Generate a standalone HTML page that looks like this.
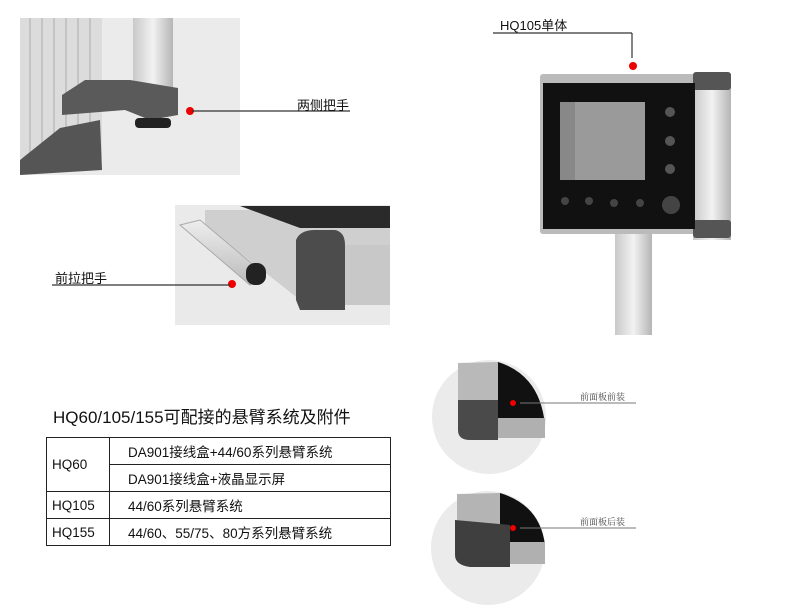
<!DOCTYPE html>
<html><head><meta charset="utf-8"><style>
body{margin:0;width:790px;height:613px;background:#fff;position:relative;overflow:hidden;font-family:"Liberation Sans","Noto Sans CJK SC",sans-serif;color:#111}
.a{position:absolute}
table{border-collapse:collapse;position:absolute;left:46px;top:437px;font-size:13.5px;table-layout:fixed;width:344px}
td{border:1.5px solid #222;height:26px;padding:0;white-space:nowrap}
</style></head><body>
<svg class="a" style="left:0;top:0" width="790" height="613">
<defs>
<linearGradient id="al" x1="0" x2="1"><stop offset="0" stop-color="#c9c9c9"/><stop offset=".5" stop-color="#f2f2f2"/><stop offset="1" stop-color="#b5b5b5"/></linearGradient>
<linearGradient id="alv" x1="0" y1="0" x2="0" y2="1"><stop offset="0" stop-color="#eee"/><stop offset="1" stop-color="#bbb"/></linearGradient>
</defs>
<rect x="20" y="18" width="220" height="157" fill="#ebebeb"/>
<rect x="20" y="18" width="82" height="140" fill="#dcdcdc"/>
<g stroke="#c4c4c4" stroke-width="2"><line x1="30" y1="18" x2="30" y2="160"/><line x1="42" y1="18" x2="42" y2="155"/><line x1="54" y1="18" x2="54" y2="150"/><line x1="66" y1="18" x2="66" y2="140"/><line x1="78" y1="18" x2="78" y2="130"/><line x1="90" y1="18" x2="90" y2="125"/></g>
<path d="M20 160 L60 128 L100 120 L102 170 L20 175Z" fill="#555"/>
<rect x="133" y="18" width="40" height="78" fill="url(#al)"/>
<path d="M62 95 L85 80 L130 80 L178 88 L178 115 L150 120 L125 110 L62 115Z" fill="#5a5a5a"/>
<rect x="135" y="118" width="36" height="10" rx="4" fill="#222"/>
<circle cx="190" cy="111" r="4" fill="#e00"/>
<line x1="192" y1="111" x2="350" y2="111" stroke="#333" stroke-width="1.2"/>
<rect x="175" y="205" width="215" height="120" fill="#eaeaea"/>
<path d="M205 210 L390 210 L390 300 L300 300 L205 225Z" fill="#cfcfcf"/>
<path d="M240 206 L390 206 L390 228 L300 228Z" fill="#2a2a2a"/>
<path d="M180 225 L200 220 L262 272 L250 285Z" fill="url(#alv)" stroke="#aaa"/>
<rect x="246" y="263" width="20" height="22" rx="9" fill="#222"/>
<path d="M296 240 Q300 230 315 230 L335 230 Q345 232 345 245 L345 310 L300 310 L296 300Z" fill="#4c4c4c"/>
<rect x="345" y="245" width="45" height="60" fill="#c8c8c8"/>
<circle cx="232" cy="284" r="4" fill="#e00"/>
<line x1="52" y1="285" x2="230" y2="285" stroke="#333" stroke-width="1.2"/>
<line x1="493" y1="33" x2="632" y2="33" stroke="#333" stroke-width="1.2"/>
<line x1="632" y1="33" x2="632" y2="58" stroke="#333" stroke-width="1.2"/>
<circle cx="633" cy="66" r="4" fill="#e00"/>
<rect x="615" y="228" width="37" height="107" fill="url(#al)"/>
<rect x="540" y="74" width="170" height="160" rx="3" fill="#bbb"/>
<rect x="693" y="74" width="38" height="166" fill="url(#al)"/>
<rect x="693" y="72" width="38" height="18" rx="3" fill="#555"/>
<rect x="693" y="220" width="38" height="18" rx="3" fill="#555"/>
<rect x="543" y="83" width="152" height="146" fill="#111"/>
<rect x="560" y="102" width="85" height="78" fill="#888"/>
<rect x="575" y="102" width="70" height="78" fill="#9a9a9a"/>
<circle cx="670" cy="112" r="5" fill="#555"/><circle cx="670" cy="141" r="5" fill="#555"/><circle cx="670" cy="169" r="5" fill="#555"/>
<circle cx="565" cy="201" r="4" fill="#444"/><circle cx="589" cy="201" r="4" fill="#444"/><circle cx="614" cy="203" r="4" fill="#444"/><circle cx="640" cy="203" r="4" fill="#444"/><circle cx="671" cy="205" r="9" fill="#444"/>
<circle cx="489" cy="417" r="57" fill="#ebebeb"/>
<path d="M458 363 L498 362 L498 425 L458 425Z" fill="#b9b9b9"/>
<path d="M498 362 Q540 375 545 425 L498 425Z" fill="#111"/>
<path d="M458 400 L498 400 L498 440 L470 440 Q458 440 458 430Z" fill="#4a4a4a"/>
<rect x="498" y="418" width="47" height="20" fill="#b0b0b0"/>
<circle cx="513" cy="403" r="3" fill="#e00"/>
<line x1="520" y1="403" x2="636" y2="403" stroke="#777"/>
<circle cx="488" cy="548" r="57" fill="#ebebeb"/>
<path d="M457 494 L500 493 L500 545 L457 545Z" fill="#b4b4b4"/>
<path d="M500 493 Q540 505 545 545 L500 545Z" fill="#111"/>
<path d="M455 520 L510 525 L510 567 L470 567 Q455 565 455 555Z" fill="#3f3f3f"/>
<rect x="510" y="542" width="35" height="22" fill="#b0b0b0"/>
<circle cx="513" cy="528" r="3" fill="#e00"/>
<line x1="520" y1="528" x2="636" y2="528" stroke="#777"/>
</svg>
<div class="a" style="left:297px;top:95px;font-size:13px">两侧把手</div>
<div class="a" style="left:55px;top:268px;font-size:13px">前拉把手</div>
<div class="a" style="left:500px;top:15px;font-size:13px">HQ105单体</div>
<div class="a" style="left:580px;top:390px;font-size:9px;font-family:'Liberation Serif','Noto Serif CJK SC',serif;color:#444">前面板前装</div>
<div class="a" style="left:580px;top:515px;font-size:9px;font-family:'Liberation Serif','Noto Serif CJK SC',serif;color:#444">前面板后装</div>
<div class="a" style="left:53px;top:403px;font-size:17px">HQ60/105/155可配接的悬臂系统及附件</div>
<table>
<col style="width:63px"><col style="width:281px">
<tr><td rowspan="2" style="padding-left:5px">HQ60</td><td style="padding-left:18px">DA901接线盒+44/60系列悬臂系统</td></tr>
<tr><td style="padding-left:18px">DA901接线盒+液晶显示屏</td></tr>
<tr><td style="padding-left:5px">HQ105</td><td style="padding-left:18px">44/60系列悬臂系统</td></tr>
<tr><td style="padding-left:5px">HQ155</td><td style="padding-left:18px">44/60、55/75、80方系列悬臂系统</td></tr>
</table>
</body></html>
